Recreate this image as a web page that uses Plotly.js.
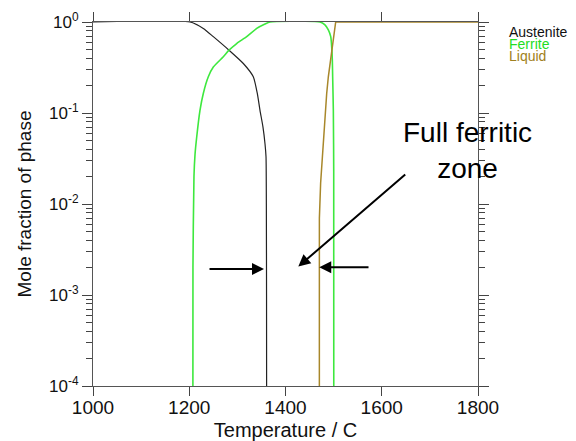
<!DOCTYPE html>
<html>
<head>
<meta charset="utf-8">
<script src="https://cdn.plot.ly/plotly-3.0.1.min.js"></script>
<style>html,body{margin:0;padding:0;background:#fff;}#chart{width:576px;height:441px;}</style>
</head>
<body>
<div id="chart"></div>
<script>
// Temperature (C) and mole fraction values
var austeniteT = [1000, 1201.6, 1229.2, 1250, 1282.6, 1312.4, 1333.1, 1341.4, 1347, 1353.2, 1357.4, 1359.5, 1360.2, 1360.6, 1361];
var austeniteF = [1, 1, 0.85, 0.69, 0.49, 0.35, 0.25, 0.164, 0.107, 0.070, 0.046, 0.033, 0.01, 0.001, 1e-6];

var ferriteT = [1207.4, 1207.7, 1209.8, 1212, 1215.5, 1222.3, 1229.2, 1239.6, 1250, 1270.8, 1282.6, 1298.6, 1319.4, 1340.2, 1357.4, 1367.8, 1471.7, 1482, 1489, 1494, 1496, 1497.3, 1498, 1499.4, 1500.2, 1500.4];
var ferriteF = [1e-6, 0.002, 0.02, 0.035, 0.0545, 0.107, 0.164, 0.25, 0.32, 0.415, 0.49, 0.58, 0.69, 0.85, 0.95, 1, 1, 0.93, 0.82, 0.69, 0.53, 0.38, 0.25, 0.107, 0.023, 1e-6];

var liquidT = [1470.3, 1470.4, 1473, 1477.3, 1482, 1485.6, 1489, 1493.9, 1498, 1501.5, 1504.3, 1800];
var liquidF = [1e-6, 0.007, 0.017, 0.039, 0.107, 0.164, 0.25, 0.38, 0.53, 0.69, 1, 1];

var phaseNames = ['Austenite', 'Ferrite', 'Liquid'];
var phaseColors = ['#222222', '#3ee83e', '#a8872a'];
var phaseTextColors = ['#111111', '#22dd22', '#a08020'];

var yTickVals = [1e-4, 1e-3, 1e-2, 1e-1, 1];
var yTickText = ['10<sup>-4</sup>', '10<sup>-3</sup>', '10<sup>-2</sup>', '10<sup>-1</sup>', '10<sup>0</sup>'];
var xTickVals = [1000, 1200, 1400, 1600, 1800];

var minorVals = [];
for (var e = -4; e < 0; e++) { for (var m = 2; m <= 9; m++) { minorVals.push(m * Math.pow(10, e)); } }

var traces = [
  {x: austeniteT, y: austeniteF, name: phaseNames[0], mode: 'lines', line: {color: phaseColors[0], width: 1.2, shape: 'spline', smoothing: 0.6}},
  {x: ferriteT, y: ferriteF, name: phaseNames[1], mode: 'lines', line: {color: phaseColors[1], width: 1.6, shape: 'spline', smoothing: 0.6}},
  {x: liquidT, y: liquidF, name: phaseNames[2], mode: 'lines', line: {color: phaseColors[2], width: 1.5}}
];

var font = 'Liberation Sans, Arial, sans-serif';
var annotations = [];
// phase labels (legend-like)
var legendY = [0.972, 0.940, 0.9076];
for (var i = 0; i < 3; i++) {
  annotations.push({xref: 'paper', yref: 'paper', x: 1.0745, y: legendY[i], xanchor: 'left', yanchor: 'middle',
    text: phaseNames[i], showarrow: false, font: {family: font, size: 14, color: phaseTextColors[i]}});
}
annotations.push({xref: 'paper', yref: 'paper', x: 0.974, y: 0.648, xanchor: 'center', yanchor: 'middle',
  text: 'Full ferritic<br>zone', showarrow: false, font: {family: font, size: 28, color: '#000'}});
// arrows
var arrowStyle = {showarrow: true, arrowhead: 2, arrowsize: 1.2, arrowwidth: 2, arrowcolor: '#000', text: '', standoff: 0, axref: 'x', ayref: 'y', xref: 'x', yref: 'y'};
function arrow(x, y, ax, ay) { var a = Object.assign({}, arrowStyle); a.x = x; a.y = y; a.ax = ax; a.ay = ay; return a; }
annotations.push(arrow(1355.3, -2.713, 1239.0, -2.713));
annotations.push(arrow(1470.2, -2.694, 1575.6, -2.694));
annotations.push(arrow(1426.6, -2.688, 1651.9, -1.661));

var layout = {
  width: 576, height: 441,
  margin: {l: 93, r: 98, t: 22, b: 55},
  paper_bgcolor: '#fff', plot_bgcolor: '#fff',
  showlegend: false,
  font: {family: font, color: '#111'},
  xaxis: {
    range: [1000, 1800], tickmode: 'array', tickvals: xTickVals,
    ticks: 'outside', ticklen: 9, tickcolor: '#444', tickwidth: 1, ticklabelstandoff: -5,
    showline: true, linecolor: '#555', linewidth: 1, mirror: 'ticks',
    showgrid: false, zeroline: false, layer: 'below traces',
    tickfont: {family: font, size: 19, color: '#111'},
    title: {text: 'Temperature / C', font: {family: font, size: 20, color: '#111'}, standoff: 12}
  },
  yaxis: {
    type: 'log', range: [-4, 0], tickmode: 'array', tickvals: yTickVals, ticktext: yTickText,
    ticks: 'outside', ticklen: 10, tickcolor: '#444', tickwidth: 1,
    minor: {tickmode: 'array', tickvals: minorVals, ticks: 'outside', ticklen: 6, tickcolor: '#444', showgrid: false},
    showline: true, linecolor: '#555', linewidth: 1, mirror: 'ticks',
    showgrid: false, zeroline: false, layer: 'below traces',
    tickfont: {family: font, size: 17, color: '#111'},
    title: {text: 'Mole fraction of phase', font: {family: font, size: 19, color: '#111'}, standoff: 12}
  },
  annotations: annotations
};

Plotly.newPlot('chart', traces, layout, {staticPlot: true, displayModeBar: false});
</script>
</body>
</html>
